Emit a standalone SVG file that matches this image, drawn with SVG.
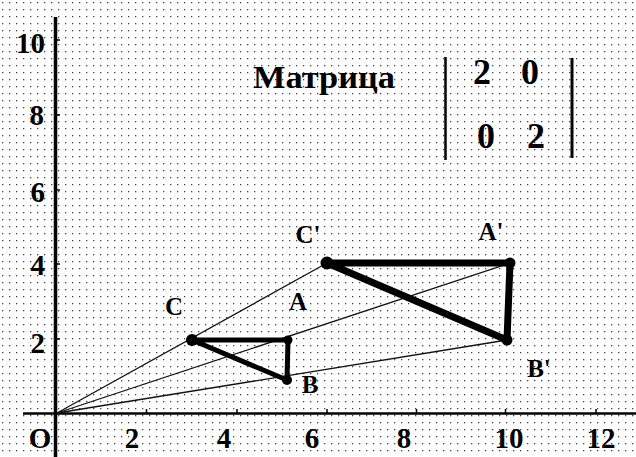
<svg xmlns="http://www.w3.org/2000/svg" width="636" height="457" viewBox="0 0 636 457">
<defs>
<pattern id="dots" x="2" y="2" width="7" height="7" patternUnits="userSpaceOnUse">
<rect x="0" y="0" width="1.3" height="1.3" fill="#444"/>
</pattern>
<style>
text{font-family:"Liberation Serif","DejaVu Serif",serif;font-weight:bold;fill:#000}
.ax{font-size:29px}
.lb{font-size:25px}
.mx{font-size:36px}
.ray{stroke:#111;stroke-width:1.3;fill:none}
.tri{stroke:#000;fill:none;stroke-linejoin:round;stroke-linecap:round}
.axis{stroke:#000;fill:none}
</style>
</defs>
<rect width="636" height="457" fill="#fff"/>
<rect width="636" height="457" fill="url(#dots)"/>
<g id="axes">
<line class="axis" x1="55.5" y1="17" x2="55.5" y2="457" stroke-width="3.5"/>
<line class="axis" x1="23" y1="413.5" x2="636" y2="413.5" stroke-width="2.5"/>
<path class="axis" stroke-width="1.5" d="M146.5 413v-4M237 413v-4M327 413v-4M416.5 413v-4M505.5 413v-4M596 413v-4M57 40h3M57 115h3M57 190h3M57 264h3M57 339h3"/>
</g>
<g id="axis-labels">
<text class="ax" x="45" y="53" text-anchor="end">10</text>
<text class="ax" x="44" y="125" text-anchor="end">8</text>
<text class="ax" x="45" y="202" text-anchor="end">6</text>
<text class="ax" x="45" y="275" text-anchor="end">4</text>
<text class="ax" x="45" y="353" text-anchor="end">2</text>
<text class="ax" x="40" y="448" text-anchor="middle">O</text>
<text class="ax" x="132" y="448" text-anchor="middle">2</text>
<text class="ax" x="224" y="448" text-anchor="middle">4</text>
<text class="ax" x="312" y="448" text-anchor="middle">6</text>
<text class="ax" x="404" y="448" text-anchor="middle">8</text>
<text class="ax" x="509" y="448" text-anchor="middle">10</text>
<text class="ax" x="601" y="448" text-anchor="middle">12</text>
</g>
<g id="connectors">
<line class="ray" x1="57" y1="413" x2="327" y2="263"/>
<line class="ray" x1="57" y1="413" x2="510" y2="263"/>
<line class="ray" x1="57" y1="413" x2="507" y2="340"/>
</g>
<g id="triangle-ABC">
<polygon class="tri" stroke-width="5" points="192,340 288,340 287,380"/>
<circle cx="192" cy="340" r="6"/>
<circle cx="288" cy="340" r="4.5"/>
<circle cx="287" cy="380" r="5"/>
</g>
<g id="triangle-A1B1C1">
<polygon class="tri" stroke-width="7" points="327,263 510,263 507,340"/>
<circle cx="327" cy="263" r="6.5"/>
<circle cx="510" cy="263" r="5.5"/>
<circle cx="507" cy="340" r="5.5"/>
</g>
<g id="vertex-labels">
<text class="lb" x="174" y="315" text-anchor="middle">C</text>
<text class="lb" x="298" y="310" text-anchor="middle">A</text>
<text class="lb" x="310" y="393" text-anchor="middle">B</text>
<text class="lb" x="308" y="243" text-anchor="middle">C'</text>
<text class="lb" x="491" y="240" text-anchor="middle">A'</text>
<text class="lb" x="539" y="377" text-anchor="middle">B'</text>
</g>
<g id="matrix">
<text x="253" y="88" font-size="31" textLength="142" lengthAdjust="spacingAndGlyphs">Матрица</text>
<line class="axis" x1="445.5" y1="57" x2="445.5" y2="160" stroke-width="2.5"/>
<line class="axis" x1="572" y1="58" x2="572" y2="158" stroke-width="3"/>
<text class="mx" x="482" y="84" text-anchor="middle">2</text>
<text class="mx" x="530" y="84" text-anchor="middle">0</text>
<text class="mx" x="486" y="148" text-anchor="middle">0</text>
<text class="mx" x="536" y="148" text-anchor="middle">2</text>
</g>
</svg>
